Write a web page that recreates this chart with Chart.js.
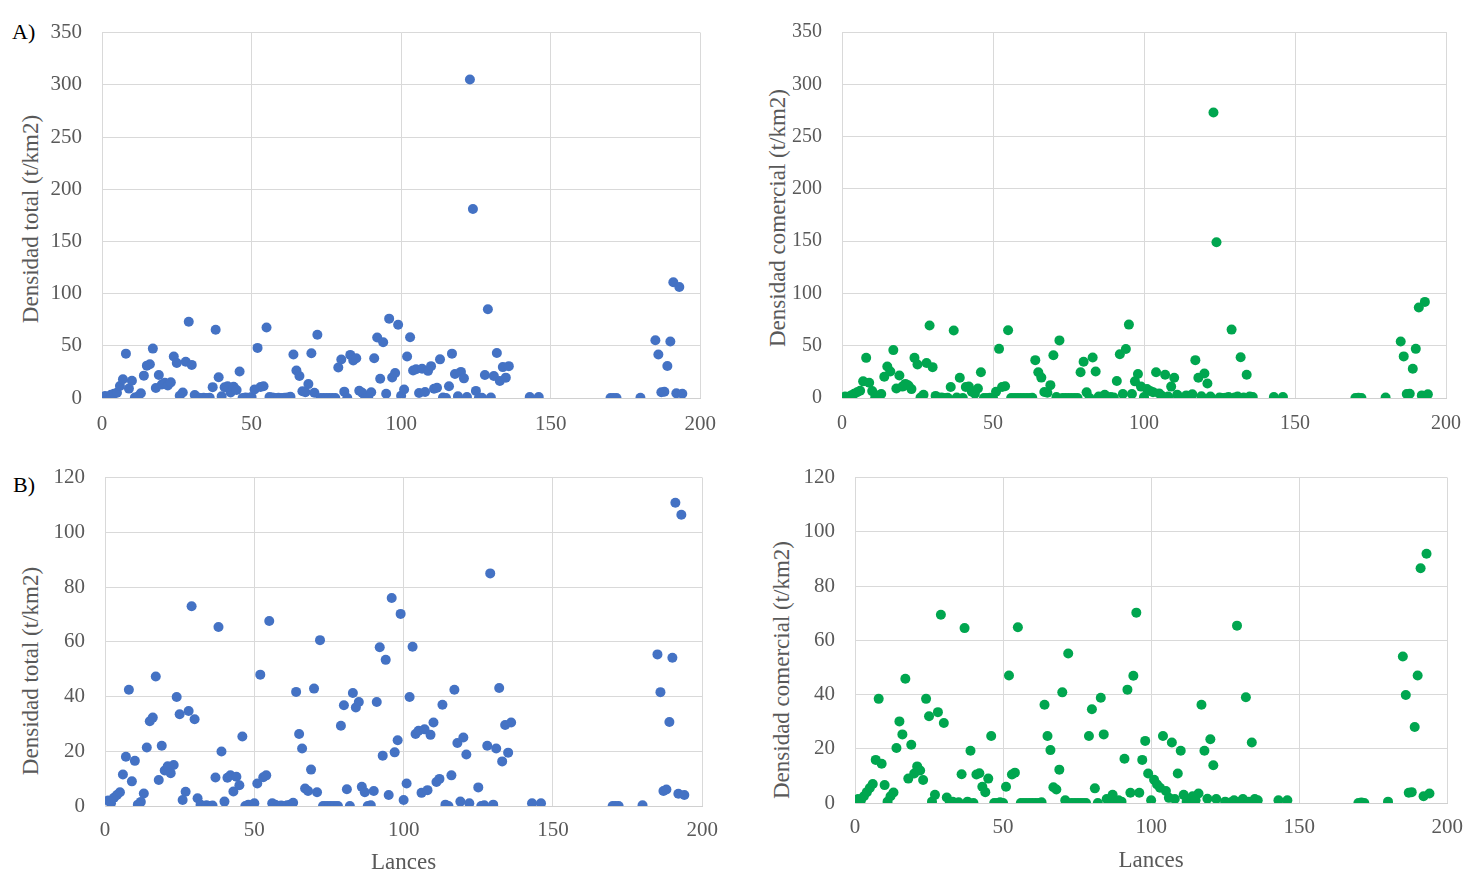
<!DOCTYPE html>
<html>
<head>
<meta charset="utf-8">
<script src="https://cdn.jsdelivr.net/npm/chart.js@4.4.1/dist/chart.umd.min.js"></script>
<style>
html,body{margin:0;padding:0;background:#fff;}
body{width:1475px;height:874px;position:relative;overflow:hidden;font-family:"Liberation Serif","Times New Roman",serif;}
canvas{position:absolute;}
.lbl{position:absolute;font-size:22px;line-height:1;color:#000;}
.yt{position:absolute;font-size:23px;line-height:1;color:#595959;white-space:nowrap;transform:translate(-50%,-50%) rotate(-90deg);}
</style>
</head>
<body>
<div class="lbl" style="left:12px;top:21px">A)</div>
<div class="lbl" style="left:13px;top:474px">B)</div>
<div class="yt" style="left:30px;top:219px">Densidad total (t/km2)</div>
<div class="yt" style="left:777px;top:218px">Densidad comercial (t/km2)</div>
<div class="yt" style="left:30px;top:671px">Densidad total (t/km2)</div>
<div class="yt" style="left:781px;top:670px">Densidad comercial (t/km2)</div>

<canvas id="cA1" width="730" height="445" style="left:0px;top:0px"></canvas>
<canvas id="cA2" width="735" height="445" style="left:740px;top:0px"></canvas>
<canvas id="cB1" width="730" height="429" style="left:0px;top:445px"></canvas>
<canvas id="cB2" width="735" height="429" style="left:740px;top:445px"></canvas>

<script>
// ---- Data ----
const lances = [
  1,2,3,4,5,6,7,8,9,10,
  11,12,13,14,15,16,17,18,19,20,
  21,22,23,24,25,26,27,28,29,30,
  31,32,33,34,35,36,37,38,39,40,
  41,42,43,44,45,46,47,48,49,50,
  51,52,53,54,55,56,57,58,59,60,
  61,62,63,64,65,66,67,68,69,70,
  71,72,73,74,75,76,77,78,79,80,
  81,82,83,84,85,86,87,88,89,90,
  91,92,93,94,95,96,97,98,99,100,
  101,102,103,104,105,106,107,108,109,110,
  111,112,113,114,115,116,117,118,119,120,
  121,122,123,124,125,126,127,128,129,130,
  131,132,133,134,135,136,
  143,146,
  170,171,172,
  180,
  185,186,187,188,189,190,191,192,193,194
];

const densidadTotal = [
  2,1,3,4,5,11.5,18,42.5,9,16.5,
  0.5,1.5,4.6,21.4,31,32.3,47.3,9.5,22,13,
  14.5,12,15,39.8,33.5,2.2,5.2,34.7,73,31.7,
  2.8,0.5,0,0.3,0,0.2,10.4,65.4,19.9,1.6,
  10.3,11.2,5.3,10.7,7.6,25.4,0,0.5,0.2,1,
  8.2,48,10.5,11.2,67.6,1,0.5,0,0.2,0,
  0.3,0.5,1.2,41.7,26.3,21,6.4,5.5,13.3,42.9,
  5,60.6,0,0,0,0,0,0,29.3,36.8,
  6.1,0,41.3,36,38,7,5,0,0.3,5.5,
  38,58,18.4,53.4,4,76,19.6,24,70.2,2.2,
  8.2,39.8,58.2,26.3,27.5,4.8,28,5.8,26,30.5,
  8.8,9.9,37,0.5,0,11.2,42.5,23,1.6,25,
  18.8,1,305,181,6.8,0,0.3,22,85,0.5,
  21,43.1,16.3,29.6,19.5,30.5,
  1,1,
  0,0,0,
  0.3,
  55.4,41.6,5.5,6,30.7,54.2,110.8,4.5,106.4,4
];

const densidadComercial = [
  1.5,1,2.5,4,5.5,7,15.9,38.4,14.5,6.6,
  0.5,2.5,3.9,20.3,30.1,25.3,45.8,9,21.5,10.9,
  13.5,12,8.5,38.4,32,0.5,3,33.5,69.4,29.5,
  2,0,0.5,0,0.3,10.6,64.5,0.5,19.3,0,
  10.5,11,6,4,9,24.7,0,0,0.3,0,
  6,47,10.5,11.2,64.8,0,0,0,0,0,
  0,0,0.3,36.2,24.7,19.5,5.8,5,12.3,40.8,
  1,55.1,0,0,0,0,0,0,24.7,34.6,
  5.4,0,38.8,25.3,1.5,0,3,0.5,1,0.5,
  16.3,41.8,3.8,46.9,70.2,3.8,15.9,22.9,10.9,1,
  8.6,6.8,5.6,24.7,4.4,1.9,22.3,1.5,10.9,19.3,
  3,0.5,0,2.5,1,3.5,36.2,19.3,1.6,23.5,
  13.9,1.5,273,149,0.5,0,0.3,1,65.4,0.5,
  1.5,39,0.5,22.3,1.5,1,
  1,1,
  0,0.2,0,
  0.5,
  54,39.8,3.8,4,28,47,86.6,2.5,91.9,3.5
];

const xTicks  = [0, 50, 100, 150, 200];
const yTicksA = [0, 50, 100, 150, 200, 250, 300, 350];
const yTicksB = [0, 20, 40, 60, 80, 100, 120];
const xTitle = 'Lances';

// ---- Chart builder ----
function panel(id, c) {
  const pts = lances.map((x, i) => ({ x: x, y: c.values[i] }));
  const fam = 'Liberation Serif';
  return new Chart(document.getElementById(id), {
    type: 'scatter',
    data: {
      datasets: [{
        data: pts,
        backgroundColor: c.color,
        borderColor: c.color,
        borderWidth: 0,
        pointRadius: 5,
        pointHoverRadius: 5
      }]
    },
    options: {
      responsive: false,
      maintainAspectRatio: false,
      animation: false,
      events: [],
      layout: { padding: { top: c.padTop, right: c.padRight, left: 0, bottom: 0 } },
      plugins: { legend: { display: false }, tooltip: { enabled: false } },
      scales: {
        x: {
          type: 'linear',
          position: 'bottom',
          min: xTicks[0],
          max: xTicks[xTicks.length - 1],
          afterBuildTicks: s => { s.ticks = xTicks.map(v => ({ value: v })); },
          afterFit: s => { s.height = c.xHeight; },
          grid: { color: '#d9d9d9', lineWidth: 1, drawTicks: false },
          border: { color: '#d0d0d0' },
          ticks: { padding: c.xPad, color: '#595959', font: { family: fam, size: c.tickSize } },
          title: c.showXTitle ? {
            display: true, text: xTitle, color: '#595959',
            font: { family: fam, size: 23, lineHeight: 1 },
            padding: { top: 0, bottom: c.xTitlePad }
          } : { display: false }
        },
        y: {
          type: 'linear',
          position: 'left',
          min: c.yTicks[0],
          max: c.yTicks[c.yTicks.length - 1],
          afterBuildTicks: s => { s.ticks = c.yTicks.map(v => ({ value: v })); },
          afterFit: s => { s.width = c.yWidth; },
          grid: { color: '#d9d9d9', lineWidth: 1, drawTicks: false },
          border: { color: '#d9d9d9' },
          ticks: { padding: 20, color: '#595959', font: { family: fam, size: c.tickSize } }
        }
      }
    }
  });
}

const blue = '#4472C4';
const green = '#00A64F';

panel('cA1', { values: densidadTotal, color: blue, yTicks: yTicksA, padTop: 21, padRight: 25,
  yWidth: 102, xHeight: 47, xPad: 14, tickSize: 21, showXTitle: false });
panel('cA2', { values: densidadComercial, color: green, yTicks: yTicksA, padTop: 20, padRight: 24,
  yWidth: 102, xHeight: 47, xPad: 14, tickSize: 20, showXTitle: false });
panel('cB1', { values: densidadTotal, color: blue, yTicks: yTicksB, padTop: 29, padRight: 24,
  yWidth: 105, xHeight: 68, xPad: 12, tickSize: 21, showXTitle: true, xTitlePad: 0 });
panel('cB2', { values: densidadComercial, color: green, yTicks: yTicksB, padTop: 27, padRight: 19,
  yWidth: 115, xHeight: 71, xPad: 12, tickSize: 21, showXTitle: true, xTitlePad: 2 });
</script>
</body>
</html>
